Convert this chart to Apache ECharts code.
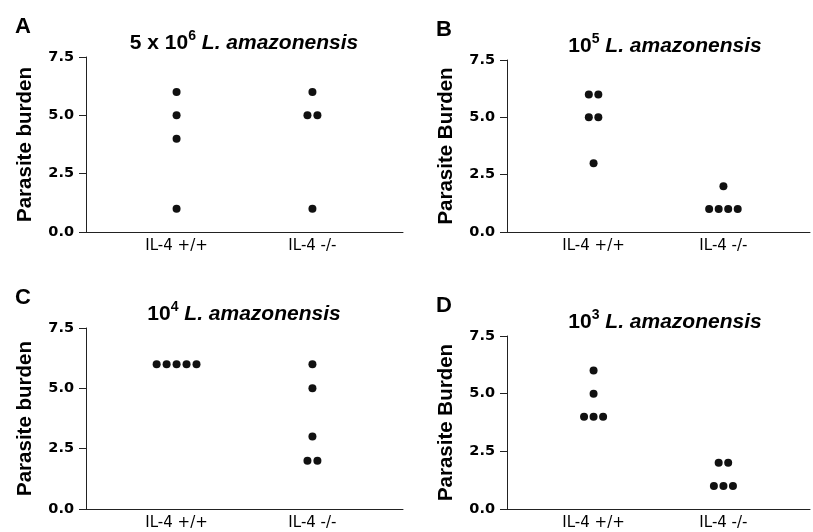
<!DOCTYPE html>
<html>
<head>
<meta charset="utf-8">
<script src="https://cdn.jsdelivr.net/npm/echarts@6/dist/echarts.min.js"></script>
<style>
  html, body { margin: 0; padding: 0; background: #fff; }
  #chart { width: 813px; height: 532px; }
</style>
</head>
<body>
<div id="chart"></div>
<script>
// group labels and tick values
const groups = ['IL-4 +/+', 'IL-4 -/-'];
const yTicks = [0, 2.5, 5, 7.5];

// parasite burden per mouse
const wtA = [6, 5, 4, 1];
const koA = [6, 5, 5, 1];
const wtB = [6, 6, 5, 5, 3];
const koB = [2, 1, 1, 1, 1];
const wtC = [6, 6, 6, 6, 6];
const koC = [6, 5, 3, 2, 2];
const wtD = [6, 5, 4, 4, 4];
const koD = [2, 2, 1, 1, 1];

const panels = [
  { letter: 'A', dose: '5 x 10', exp: '6', yName: 'Parasite burden', wt: wtA, ko: koA,
    grid: { left: 86, top: 57, width: 317, height: 175 } },
  { letter: 'B', dose: '10', exp: '5', yName: 'Parasite Burden', wt: wtB, ko: koB,
    grid: { left: 507, top: 60, width: 306, height: 172 } },
  { letter: 'C', dose: '10', exp: '4', yName: 'Parasite burden', wt: wtC, ko: koC,
    grid: { left: 86, top: 328, width: 317, height: 181 } },
  { letter: 'D', dose: '10', exp: '3', yName: 'Parasite Burden', wt: wtD, ko: koD,
    grid: { left: 507, top: 336, width: 306, height: 173 } }
];

const groupX = [1, 2.5];
const step = 0.11;

// spread equal values side by side like a column scatter
function spread(values, cx) {
  const counts = {};
  values.forEach(v => { counts[v] = (counts[v] || 0) + 1; });
  const seen = {};
  return values.map(v => {
    const n = counts[v];
    const i = seen[v] || 0;
    seen[v] = i + 1;
    return [cx + (i - (n - 1) / 2) * step, v];
  });
}

const font = '"Liberation Sans", Arial, sans-serif';
const wide = '"DejaVu Sans", sans-serif';
const option = {
  backgroundColor: '#fff',
  animation: false,
  title: [],
  grid: [],
  xAxis: [],
  yAxis: [],
  series: []
};

panels.forEach((p, k) => {
  const g = p.grid;
  option.grid.push(g);
  // panel letter
  option.title.push({
    text: p.letter,
    left: g.left - 71,
    top: g.top - 41,
    padding: 0,
    textStyle: { fontFamily: font, fontSize: 22, fontWeight: 'bold', color: '#000' }
  });
  // dose title
  option.title.push({
    text: '{b|' + p.dose + '}{s|' + p.exp + '}{i| L. amazonensis}',
    left: g.left + 158,
    top: g.top - 28,
    padding: 0,
    textAlign: 'center',
    textStyle: {
      rich: {
        b: { fontFamily: font, fontSize: 21, fontWeight: 'bold', color: '#000', verticalAlign: 'bottom', lineHeight: 25 },
        s: { fontFamily: font, fontSize: 14, fontWeight: 'bold', color: '#000', verticalAlign: 'top', lineHeight: 25 },
        i: { fontFamily: font, fontSize: 21, fontWeight: 'bold', fontStyle: 'italic', color: '#000', verticalAlign: 'bottom', lineHeight: 25 }
      }
    }
  });
  option.xAxis.push({
    gridIndex: k,
    type: 'value',
    min: 0,
    max: 3.5,
    interval: 0.5,
    splitLine: { show: false },
    axisTick: { show: false },
    axisLine: { lineStyle: { color: '#222', width: 1 } },
    axisLabel: {
      fontFamily: wide, fontSize: 15, color: '#000', margin: 7,
      formatter: v => (v === groupX[0] ? groups[0] : v === groupX[1] ? groups[1] : '')
    }
  });
  option.yAxis.push({
    gridIndex: k,
    type: 'value',
    min: yTicks[0],
    max: yTicks[yTicks.length - 1],
    interval: 2.5,
    name: p.yName,
    nameLocation: 'middle',
    nameGap: 50,
    nameTextStyle: { fontFamily: font, fontSize: 20.5, fontWeight: 'bold', color: '#000' },
    splitLine: { show: false },
    axisLine: { show: true, lineStyle: { color: '#222', width: 1 } },
    axisTick: { show: true, length: 7, lineStyle: { color: '#222' } },
    axisLabel: {
      fontFamily: wide, fontSize: 14.5, fontWeight: 'bold', color: '#000', margin: 12,
      formatter: v => v.toFixed(1)
    }
  });
  [p.wt, p.ko].forEach((vals, j) => {
    option.series.push({
      type: 'scatter',
      xAxisIndex: k,
      yAxisIndex: k,
      symbol: 'circle',
      symbolSize: 8,
      itemStyle: { color: '#111', opacity: 1 },
      data: spread(vals, groupX[j])
    });
  });
});

const chart = echarts.init(document.getElementById('chart'));
chart.setOption(option);
</script>
</body>
</html>
